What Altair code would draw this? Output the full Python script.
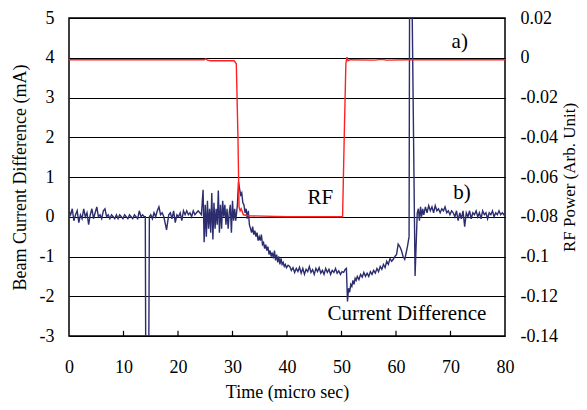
import altair as alt
import pandas as pd

FONT = "Liberation Serif"

# Beam current difference (mA)
cd_t = [0, 0.3, 0.6, 0.9, 1.2, 1.5, 1.8, 2.1, 2.4, 2.7, 3.0, 3.3, 3.6, 3.9, 4.2, 4.5, 4.8, 5.1, 5.4, 5.7,
        6.0, 6.3, 6.6, 6.9, 7.2, 7.5, 7.8, 8.1, 8.4, 8.7, 9.0, 9.3, 9.6, 9.9, 10.2, 10.5, 10.8, 11.1, 11.4, 11.7,
        12.0, 12.3, 12.6, 12.9, 13.2, 13.5, 13.8,
        14.0, 14.1, 14.6, 14.75,
        15.0, 15.3, 15.6, 15.9, 16.2, 16.5, 16.8, 17.1, 17.4, 17.9, 18.3, 18.6, 18.9, 19.2, 19.5, 19.8, 20.1, 20.4,
        20.7, 21.0, 21.3, 21.6, 21.9, 22.2, 22.5, 22.8, 23.1, 23.4, 23.7, 24.0, 24.3,
        24.6, 24.8, 25.0, 25.2, 25.4, 25.6, 25.8, 26.0, 26.2, 26.4, 26.6, 26.8, 27.0, 27.2, 27.4, 27.6, 27.8, 28.0,
        28.2, 28.4, 28.6, 28.8, 29.0, 29.2, 29.4, 29.6, 29.8, 30.0, 30.2, 30.4, 30.6,
        30.9, 31.1, 31.3, 31.5, 31.7, 31.9, 32.1, 32.3, 32.5, 32.7, 32.9, 33.1, 33.3, 33.5, 33.7, 33.9, 34.1, 34.3,
        34.5, 34.7, 34.9, 35.1, 35.3, 35.5, 35.7, 35.9, 36.1, 36.3, 36.5, 36.7, 36.9, 37.1, 37.3, 37.5, 37.7, 37.9,
        38.1, 38.3, 38.5, 38.7, 38.9, 39.1, 39.3, 39.5, 39.7, 39.9, 40.2,
        40.5, 40.8, 41.1, 41.4, 41.7, 42.0, 42.3, 42.6, 42.9, 43.2, 43.5, 43.8, 44.1, 44.4, 44.7, 45.0, 45.3, 45.6,
        45.9, 46.2, 46.5, 46.8, 47.1, 47.4, 47.7, 48.0, 48.3, 48.6, 48.9, 49.2, 49.5, 49.8, 50.1, 50.4, 50.7, 50.9,
        51.1, 51.3, 51.5, 51.7, 51.9, 52.1, 52.3, 52.5, 52.7, 52.9, 53.2, 53.5, 53.8, 54.1, 54.4, 54.7, 55.0, 55.3,
        55.6, 55.9, 56.2, 56.5, 56.8, 57.1, 57.4, 57.7, 58.0, 58.3, 58.6, 58.9, 59.2, 59.5, 59.8, 60.1, 60.4, 60.7,
        61.0, 61.3, 61.6, 61.8, 62.1, 62.4,
        62.5, 62.9, 63.5, 63.9,
        64.1, 64.3, 64.5, 64.7, 64.9, 65.1, 65.4, 65.7, 66.0, 66.3, 66.6, 66.9, 67.2, 67.5, 67.8, 68.1, 68.4, 68.7,
        69.0, 69.3, 69.6, 69.9, 70.2, 70.5, 70.8, 71.1, 71.4, 71.7, 72.0, 72.3, 72.6, 72.9, 73.2, 73.5, 73.8, 74.1,
        74.4, 74.7, 75.0, 75.3, 75.6, 75.9, 76.2, 76.5, 76.8, 77.1, 77.4, 77.7, 78.0, 78.3, 78.6, 78.9, 79.2, 79.5,
        79.8, 80.0]
cd_v = [0.15, 0.05, 0.2, -0.1, 0.05, 0.15, -0.15, 0.05, -0.05, 0.2, 0.0, 0.1, -0.2, 0.05, 0.2, -0.05, 0.1, 0.25, 0.0, 0.05,
        -0.05, 0.15, 0.2, 0.0, 0.05, -0.05, 0.05, 0.0, -0.05, 0.05, -0.05, 0.05, 0.0, -0.05, 0.05, 0.0, -0.05, 0.05, 0.0, -0.05,
        0.05, 0.0, -0.05, 0.15, 0.0, 0.05, 0.0,
        0.0, -4.5, -4.5, 0.0,
        0.05, -0.05, 0.1, 0.0, 0.15, 0.25, 0.05, 0.1, 0.0, -0.33, 0.05, 0.1, -0.05, 0.15, -0.15, 0.05, 0.0, 0.1,
        -0.1, 0.15, 0.05, 0.15, 0.05, 0.1, 0.0, 0.15, 0.05, 0.1, 0.15, 0.1, 0.05,
        0.68, -0.64, 0.3, -0.5, 0.4, -0.3, 0.2, -0.4, 0.6, -0.57, 0.35, -0.3, 0.2, -0.2, 0.66, -0.4, 0.3, -0.3,
        0.4, 0.0, 0.3, -0.2, 0.2, -0.3, 0.1, 0.3, -0.4, 0.4, -0.1, 0.2, -0.1,
        0.3, 0.88, 0.7, 0.55, 0.6, 0.35, 0.3, 0.1, 0.2, -0.05, 0.15, -0.2, -0.3, -0.4, -0.25, -0.45, -0.35, -0.5,
        -0.4, -0.6, -0.5, -0.6, -0.45, -0.7, -0.65, -0.8, -0.7, -0.85, -0.75, -0.95, -0.85, -1.0, -0.9, -1.05, -0.85, -1.1,
        -0.95, -1.15, -1.0, -1.2, -1.05, -1.2, -1.15, -1.25, -1.2, -1.28, -1.22,
        -1.25, -1.35, -1.28, -1.4, -1.3, -1.38, -1.27, -1.42, -1.3, -1.45, -1.32, -1.38, -1.25, -1.4, -1.33, -1.45, -1.3, -1.38,
        -1.28, -1.42, -1.35, -1.45, -1.3, -1.4, -1.32, -1.45, -1.35, -1.4, -1.3, -1.42, -1.36, -1.45, -1.38, -1.4, -1.32, -1.3,
        -2.13, -1.8, -1.9, -1.7, -1.75, -1.6, -1.7, -1.55, -1.6, -1.5, -1.58, -1.45, -1.52, -1.4, -1.5, -1.42, -1.5, -1.38,
        -1.45, -1.35, -1.42, -1.3, -1.38, -1.25, -1.32, -1.2, -1.28, -1.12, -1.2, -1.05, -1.12, -1.07, -1.0, -0.95, -0.69, -0.75,
        -0.85, -1.0, -1.07, -0.95, -0.75, -0.5,
        6.0, 6.0, -1.49, 0.1,
        0.2, -0.1, 0.25, 0.0, 0.2, 0.05, 0.25, 0.1, 0.28, 0.15, 0.25, 0.1, 0.28, 0.15, 0.2, 0.1, 0.2, 0.15,
        0.25, 0.1, 0.15, 0.05, 0.15, 0.1, 0.0, 0.15, -0.1, 0.1, -0.05, 0.15, -0.25, 0.1, 0.0, 0.15, -0.05, 0.1,
        0.05, 0.15, 0.0, 0.1, -0.05, 0.15, 0.05, 0.1, -0.05, 0.1, 0.05, 0.15, 0.0, 0.1, 0.05, 0.15, 0.05, 0.1,
        0.05, 0.1]

# RF power (arb. unit)
rf_t = [0, 24.8, 25.1, 25.4, 26.0, 30.3, 30.7, 31.0, 31.2, 31.4, 31.6, 32.0, 33.0, 40.0, 50.2, 50.5, 50.8,
        51.0, 51.2, 51.6, 56.0, 57.5, 58.2, 62.0, 80.0]
rf_v = [-0.001, -0.001, -0.0005, -0.0012, -0.0015, -0.0015, -0.003, -0.04, -0.075, -0.077, -0.076, -0.079, -0.0795,
        -0.08, -0.08, -0.04, -0.003, 0.0003, -0.0015, -0.001, -0.0012, -0.0008, -0.0012, -0.001, -0.001]

x_ticks = [0, 10, 20, 30, 40, 50, 60, 70, 80]
inner_ticks = [10, 20, 30, 40, 50, 60, 70]
left_ticks = [-3, -2, -1, 0, 1, 2, 3, 4, 5]
right_ticks = [0.02, 0, -0.02, -0.04, -0.06, -0.08, -0.1, -0.12, -0.14]

note_text = ["a)", "b)", "RF", "Current Difference"]
note_t = [71.7, 72.1, 46.1, 62.0]
note_v = [4.4, 0.61, 0.46, -2.45]

cd = pd.DataFrame({"t": cd_t, "y": cd_v})
rf = pd.DataFrame({"t": rf_t, "y": rf_v})
tk = pd.DataFrame({"t": inner_ticks})
notes = pd.DataFrame({"t": note_t, "y": note_v, "label": note_text})

xscale = alt.Scale(domain=[0, 80], nice=False, zero=False)
lscale = alt.Scale(domain=[-3, 5], nice=False, zero=False)
rscale = alt.Scale(domain=[-0.14, 0.02], nice=False, zero=False)

blue = alt.Chart(cd).mark_line(color="#2b2d6e", strokeWidth=1.4, clip=True).encode(
    x=alt.X("t:Q", scale=xscale, axis=alt.Axis(
        orient="bottom", values=x_ticks, title="Time (micro sec)", titleFontWeight="normal",
        ticks=False, domain=False, grid=False,
        labelFlush=False, labelPadding=22, titlePadding=7, labelExpr="'' + datum.value")),
    y=alt.Y("y:Q", scale=lscale, axis=alt.Axis(
        orient="left", values=left_ticks, title="Beam Current Difference (mA)", ticks=False, domain=False,
        grid=True, gridColor="black", gridOpacity=1, gridWidth=1, labelPadding=15, titlePadding=10,
        labelExpr="'' + datum.value")),
)

ticks = alt.Chart(tk).mark_rule(color="black", strokeWidth=1.2).encode(
    x=alt.X("t:Q", scale=xscale),
    y=alt.YDatum(-3, scale=lscale, axis=None),
    y2=alt.Y2Datum(-2.87),
)

text = alt.Chart(notes).mark_text(font=FONT, fontSize=21, color="black").encode(
    x=alt.X("t:Q", scale=xscale),
    y=alt.Y("y:Q", scale=lscale, axis=None),
    text="label:N",
)

red = alt.Chart(rf).mark_line(color="#ff2020", strokeWidth=1.4, clip=True).encode(
    x=alt.X("t:Q", scale=xscale),
    y=alt.Y("y:Q", scale=rscale, axis=alt.Axis(
        orient="right", values=right_ticks, title="RF Power (Arb. Unit)", titleAngle=270,
        titleBaseline="top", titleFontSize=17, ticks=False, domain=False, grid=False,
        labelPadding=15, titlePadding=4, labelExpr="'' + datum.value")),
)

chart = alt.layer(blue, ticks, text, red).resolve_scale(y="independent").properties(
    width=436, height=318,
    autosize=alt.AutoSizeParams(type="none"),
    padding={"left": 61, "top": 10, "right": 74, "bottom": 66},
).configure_view(stroke="black", strokeWidth=1.5).configure_axis(
    labelFont=FONT, titleFont=FONT, labelFontSize=18, titleFontSize=18,
    titleFontWeight="normal", labelColor="black", titleColor="black",
)

chart.save("out.html", embed_options={"renderer": "svg", "actions": False})
